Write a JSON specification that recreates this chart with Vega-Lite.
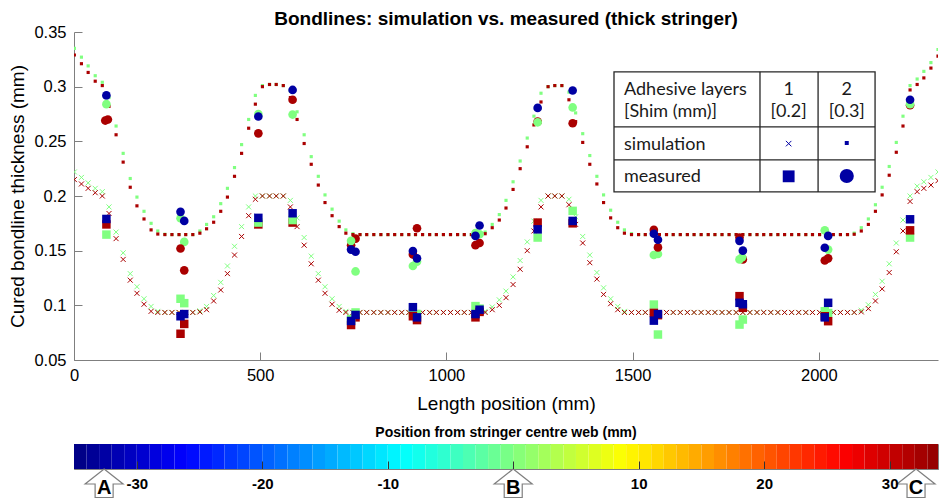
{
"$schema": "https://vega.github.io/schema/vega-lite/v6.json",
"padding": {"left": 8, "top": 10, "right": 0, "bottom": 0},
"background": "white",
"config": {"view": {"stroke": null}, "font": "Liberation Sans", "concat": {"spacing": 11}},
"datasets": {
"simL_g": [{"x":1,"y":0.222},{"x":20,"y":0.217},{"x":38,"y":0.212},{"x":57,"y":0.207},{"x":76,"y":0.204},{"x":94,"y":0.19},{"x":113,"y":0.167},{"x":132,"y":0.148},{"x":151,"y":0.129},{"x":169,"y":0.117},{"x":188,"y":0.106},{"x":207,"y":0.099},{"x":225,"y":0.0945},{"x":244,"y":0.0935},{"x":263,"y":0.0935},{"x":282,"y":0.0935},{"x":300,"y":0.0935},{"x":319,"y":0.0935},{"x":338,"y":0.095},{"x":356,"y":0.099},{"x":375,"y":0.109},{"x":394,"y":0.121},{"x":412,"y":0.136},{"x":431,"y":0.154},{"x":450,"y":0.172},{"x":469,"y":0.19},{"x":487,"y":0.2},{"x":506,"y":0.2},{"x":525,"y":0.2},{"x":543,"y":0.2},{"x":562,"y":0.2},{"x":581,"y":0.196},{"x":599,"y":0.18},{"x":618,"y":0.162},{"x":637,"y":0.145},{"x":656,"y":0.129},{"x":674,"y":0.117},{"x":693,"y":0.106},{"x":712,"y":0.099},{"x":730,"y":0.0945},{"x":749,"y":0.0935},{"x":768,"y":0.0935},{"x":786,"y":0.0935},{"x":805,"y":0.0935},{"x":824,"y":0.0935},{"x":843,"y":0.0935},{"x":861,"y":0.0935},{"x":880,"y":0.0935},{"x":899,"y":0.0935},{"x":917,"y":0.0935},{"x":936,"y":0.0935},{"x":955,"y":0.0935},{"x":973,"y":0.0935},{"x":992,"y":0.0935},{"x":1011,"y":0.0935},{"x":1030,"y":0.0935},{"x":1048,"y":0.0935},{"x":1067,"y":0.0935},{"x":1086,"y":0.0935},{"x":1104,"y":0.0945},{"x":1123,"y":0.0985},{"x":1142,"y":0.105},{"x":1160,"y":0.113},{"x":1179,"y":0.126},{"x":1198,"y":0.141},{"x":1217,"y":0.158},{"x":1235,"y":0.177},{"x":1254,"y":0.196},{"x":1273,"y":0.2},{"x":1291,"y":0.2},{"x":1310,"y":0.2},{"x":1329,"y":0.197},{"x":1347,"y":0.181},{"x":1366,"y":0.163},{"x":1385,"y":0.146},{"x":1404,"y":0.13},{"x":1422,"y":0.116},{"x":1441,"y":0.106},{"x":1460,"y":0.099},{"x":1478,"y":0.0945},{"x":1497,"y":0.0935},{"x":1516,"y":0.0935},{"x":1534,"y":0.0935},{"x":1553,"y":0.0935},{"x":1572,"y":0.0935},{"x":1591,"y":0.0935},{"x":1609,"y":0.0935},{"x":1628,"y":0.0935},{"x":1647,"y":0.0935},{"x":1665,"y":0.0935},{"x":1684,"y":0.0935},{"x":1703,"y":0.0935},{"x":1721,"y":0.0935},{"x":1740,"y":0.0935},{"x":1759,"y":0.0935},{"x":1778,"y":0.0935},{"x":1796,"y":0.0935},{"x":1815,"y":0.0935},{"x":1834,"y":0.0935},{"x":1852,"y":0.0935},{"x":1871,"y":0.0935},{"x":1890,"y":0.0935},{"x":1908,"y":0.0935},{"x":1927,"y":0.0935},{"x":1946,"y":0.0935},{"x":1965,"y":0.0935},{"x":1983,"y":0.0935},{"x":2002,"y":0.0935},{"x":2021,"y":0.0935},{"x":2039,"y":0.0935},{"x":2058,"y":0.0935},{"x":2077,"y":0.0935},{"x":2095,"y":0.0935},{"x":2114,"y":0.0955},{"x":2133,"y":0.1005},{"x":2152,"y":0.11},{"x":2170,"y":0.122},{"x":2189,"y":0.138},{"x":2208,"y":0.157},{"x":2226,"y":0.178},{"x":2245,"y":0.2},{"x":2264,"y":0.209},{"x":2282,"y":0.213},{"x":2301,"y":0.217},{"x":2320,"y":0.222}],
"simL_r": [{"x":1,"y":0.215},{"x":20,"y":0.211},{"x":38,"y":0.207},{"x":57,"y":0.203},{"x":76,"y":0.2},{"x":94,"y":0.184},{"x":113,"y":0.161},{"x":132,"y":0.142},{"x":151,"y":0.123},{"x":169,"y":0.111},{"x":188,"y":0.101},{"x":207,"y":0.0945},{"x":225,"y":0.0935},{"x":244,"y":0.0935},{"x":263,"y":0.0935},{"x":282,"y":0.0935},{"x":300,"y":0.0935},{"x":319,"y":0.0935},{"x":338,"y":0.094},{"x":356,"y":0.096},{"x":375,"y":0.104},{"x":394,"y":0.114},{"x":412,"y":0.129},{"x":431,"y":0.146},{"x":450,"y":0.163},{"x":469,"y":0.182},{"x":487,"y":0.197},{"x":506,"y":0.2},{"x":525,"y":0.2},{"x":543,"y":0.2},{"x":562,"y":0.2},{"x":581,"y":0.19},{"x":599,"y":0.172},{"x":618,"y":0.155},{"x":637,"y":0.138},{"x":656,"y":0.123},{"x":674,"y":0.111},{"x":693,"y":0.101},{"x":712,"y":0.0955},{"x":730,"y":0.0935},{"x":749,"y":0.0935},{"x":768,"y":0.0935},{"x":786,"y":0.0935},{"x":805,"y":0.0935},{"x":824,"y":0.0935},{"x":843,"y":0.0935},{"x":861,"y":0.0935},{"x":880,"y":0.0935},{"x":899,"y":0.0935},{"x":917,"y":0.0935},{"x":936,"y":0.0935},{"x":955,"y":0.0935},{"x":973,"y":0.0935},{"x":992,"y":0.0935},{"x":1011,"y":0.0935},{"x":1030,"y":0.0935},{"x":1048,"y":0.0935},{"x":1067,"y":0.0935},{"x":1086,"y":0.0935},{"x":1104,"y":0.0935},{"x":1123,"y":0.096},{"x":1142,"y":0.1},{"x":1160,"y":0.107},{"x":1179,"y":0.119},{"x":1198,"y":0.133},{"x":1217,"y":0.15},{"x":1235,"y":0.168},{"x":1254,"y":0.19},{"x":1273,"y":0.2},{"x":1291,"y":0.2},{"x":1310,"y":0.2},{"x":1329,"y":0.192},{"x":1347,"y":0.174},{"x":1366,"y":0.157},{"x":1385,"y":0.139},{"x":1404,"y":0.124},{"x":1422,"y":0.11},{"x":1441,"y":0.1015},{"x":1460,"y":0.096},{"x":1478,"y":0.0935},{"x":1497,"y":0.0935},{"x":1516,"y":0.0935},{"x":1534,"y":0.0935},{"x":1553,"y":0.0935},{"x":1572,"y":0.0935},{"x":1591,"y":0.0935},{"x":1609,"y":0.0935},{"x":1628,"y":0.0935},{"x":1647,"y":0.0935},{"x":1665,"y":0.0935},{"x":1684,"y":0.0935},{"x":1703,"y":0.0935},{"x":1721,"y":0.0935},{"x":1740,"y":0.0935},{"x":1759,"y":0.0935},{"x":1778,"y":0.0935},{"x":1796,"y":0.0935},{"x":1815,"y":0.0935},{"x":1834,"y":0.0935},{"x":1852,"y":0.0935},{"x":1871,"y":0.0935},{"x":1890,"y":0.0935},{"x":1908,"y":0.0935},{"x":1927,"y":0.0935},{"x":1946,"y":0.0935},{"x":1965,"y":0.0935},{"x":1983,"y":0.0935},{"x":2002,"y":0.0935},{"x":2021,"y":0.0935},{"x":2039,"y":0.0935},{"x":2058,"y":0.0935},{"x":2077,"y":0.0935},{"x":2095,"y":0.0935},{"x":2114,"y":0.094},{"x":2133,"y":0.097},{"x":2152,"y":0.104},{"x":2170,"y":0.115},{"x":2189,"y":0.13},{"x":2208,"y":0.149},{"x":2226,"y":0.168},{"x":2245,"y":0.195},{"x":2264,"y":0.204},{"x":2282,"y":0.207},{"x":2301,"y":0.21},{"x":2320,"y":0.214}],
"simU_g": [{"x":1,"y":0.335},{"x":20,"y":0.327},{"x":38,"y":0.319},{"x":57,"y":0.31},{"x":76,"y":0.304},{"x":94,"y":0.29},{"x":113,"y":0.264},{"x":132,"y":0.239},{"x":151,"y":0.216},{"x":169,"y":0.199},{"x":188,"y":0.186},{"x":207,"y":0.175},{"x":225,"y":0.168},{"x":244,"y":0.165},{"x":263,"y":0.1647},{"x":282,"y":0.1647},{"x":300,"y":0.1647},{"x":319,"y":0.1647},{"x":338,"y":0.168},{"x":356,"y":0.174},{"x":375,"y":0.181},{"x":394,"y":0.193},{"x":412,"y":0.207},{"x":431,"y":0.226},{"x":450,"y":0.247},{"x":469,"y":0.27},{"x":487,"y":0.292},{"x":506,"y":0.301},{"x":525,"y":0.302},{"x":543,"y":0.302},{"x":562,"y":0.301},{"x":581,"y":0.296},{"x":599,"y":0.277},{"x":618,"y":0.256},{"x":637,"y":0.236},{"x":656,"y":0.218},{"x":674,"y":0.201},{"x":693,"y":0.188},{"x":712,"y":0.177},{"x":730,"y":0.169},{"x":749,"y":0.1655},{"x":768,"y":0.1647},{"x":786,"y":0.1647},{"x":805,"y":0.1647},{"x":824,"y":0.1647},{"x":843,"y":0.1647},{"x":861,"y":0.1647},{"x":880,"y":0.1647},{"x":899,"y":0.1647},{"x":917,"y":0.1647},{"x":936,"y":0.1647},{"x":955,"y":0.1647},{"x":973,"y":0.1647},{"x":992,"y":0.1647},{"x":1011,"y":0.1647},{"x":1030,"y":0.1647},{"x":1048,"y":0.1647},{"x":1067,"y":0.1647},{"x":1086,"y":0.1647},{"x":1104,"y":0.167},{"x":1123,"y":0.174},{"x":1142,"y":0.183},{"x":1160,"y":0.196},{"x":1179,"y":0.213},{"x":1198,"y":0.232},{"x":1217,"y":0.253},{"x":1235,"y":0.273},{"x":1254,"y":0.294},{"x":1273,"y":0.3},{"x":1291,"y":0.301},{"x":1310,"y":0.301},{"x":1329,"y":0.295},{"x":1347,"y":0.276},{"x":1366,"y":0.257},{"x":1385,"y":0.237},{"x":1404,"y":0.218},{"x":1422,"y":0.201},{"x":1441,"y":0.187},{"x":1460,"y":0.176},{"x":1478,"y":0.169},{"x":1497,"y":0.1655},{"x":1516,"y":0.1647},{"x":1534,"y":0.1647},{"x":1553,"y":0.1647},{"x":1572,"y":0.1647},{"x":1591,"y":0.1647},{"x":1609,"y":0.1647},{"x":1628,"y":0.1647},{"x":1647,"y":0.1647},{"x":1665,"y":0.1647},{"x":1684,"y":0.1647},{"x":1703,"y":0.1647},{"x":1721,"y":0.1647},{"x":1740,"y":0.1647},{"x":1759,"y":0.1647},{"x":1778,"y":0.1647},{"x":1796,"y":0.1647},{"x":1815,"y":0.1647},{"x":1834,"y":0.1647},{"x":1852,"y":0.1647},{"x":1871,"y":0.1647},{"x":1890,"y":0.1647},{"x":1908,"y":0.1647},{"x":1927,"y":0.1647},{"x":1946,"y":0.1647},{"x":1965,"y":0.1647},{"x":1983,"y":0.1647},{"x":2002,"y":0.1647},{"x":2021,"y":0.1647},{"x":2039,"y":0.1647},{"x":2058,"y":0.1647},{"x":2077,"y":0.1647},{"x":2095,"y":0.166},{"x":2114,"y":0.171},{"x":2133,"y":0.179},{"x":2152,"y":0.192},{"x":2170,"y":0.208},{"x":2189,"y":0.227},{"x":2208,"y":0.249},{"x":2226,"y":0.273},{"x":2245,"y":0.301},{"x":2264,"y":0.307},{"x":2282,"y":0.314},{"x":2301,"y":0.322},{"x":2320,"y":0.334}],
"simU_r": [{"x":1,"y":0.329},{"x":20,"y":0.321},{"x":38,"y":0.313},{"x":57,"y":0.305},{"x":76,"y":0.301},{"x":94,"y":0.282},{"x":113,"y":0.256},{"x":132,"y":0.231},{"x":151,"y":0.208},{"x":169,"y":0.191},{"x":188,"y":0.179},{"x":207,"y":0.169},{"x":225,"y":0.1652},{"x":244,"y":0.1647},{"x":263,"y":0.1647},{"x":282,"y":0.1647},{"x":300,"y":0.1647},{"x":319,"y":0.1647},{"x":338,"y":0.166},{"x":356,"y":0.17},{"x":375,"y":0.176},{"x":394,"y":0.186},{"x":412,"y":0.199},{"x":431,"y":0.218},{"x":450,"y":0.239},{"x":469,"y":0.262},{"x":487,"y":0.284},{"x":506,"y":0.3},{"x":525,"y":0.302},{"x":543,"y":0.302},{"x":562,"y":0.301},{"x":581,"y":0.29},{"x":599,"y":0.27},{"x":618,"y":0.248},{"x":637,"y":0.229},{"x":656,"y":0.21},{"x":674,"y":0.194},{"x":693,"y":0.182},{"x":712,"y":0.172},{"x":730,"y":0.166},{"x":749,"y":0.1647},{"x":768,"y":0.1647},{"x":786,"y":0.1647},{"x":805,"y":0.1647},{"x":824,"y":0.1647},{"x":843,"y":0.1647},{"x":861,"y":0.1647},{"x":880,"y":0.1647},{"x":899,"y":0.1647},{"x":917,"y":0.1647},{"x":936,"y":0.1647},{"x":955,"y":0.1647},{"x":973,"y":0.1647},{"x":992,"y":0.1647},{"x":1011,"y":0.1647},{"x":1030,"y":0.1647},{"x":1048,"y":0.1647},{"x":1067,"y":0.1647},{"x":1086,"y":0.1647},{"x":1104,"y":0.1655},{"x":1123,"y":0.171},{"x":1142,"y":0.178},{"x":1160,"y":0.189},{"x":1179,"y":0.206},{"x":1198,"y":0.225},{"x":1217,"y":0.245},{"x":1235,"y":0.265},{"x":1254,"y":0.286},{"x":1273,"y":0.3},{"x":1291,"y":0.301},{"x":1310,"y":0.301},{"x":1329,"y":0.288},{"x":1347,"y":0.268},{"x":1366,"y":0.249},{"x":1385,"y":0.229},{"x":1404,"y":0.211},{"x":1422,"y":0.194},{"x":1441,"y":0.18},{"x":1460,"y":0.171},{"x":1478,"y":0.166},{"x":1497,"y":0.1647},{"x":1516,"y":0.1647},{"x":1534,"y":0.1647},{"x":1553,"y":0.1647},{"x":1572,"y":0.1647},{"x":1591,"y":0.1647},{"x":1609,"y":0.1647},{"x":1628,"y":0.1647},{"x":1647,"y":0.1647},{"x":1665,"y":0.1647},{"x":1684,"y":0.1647},{"x":1703,"y":0.1647},{"x":1721,"y":0.1647},{"x":1740,"y":0.1647},{"x":1759,"y":0.1647},{"x":1778,"y":0.1647},{"x":1796,"y":0.1647},{"x":1815,"y":0.1647},{"x":1834,"y":0.1647},{"x":1852,"y":0.1647},{"x":1871,"y":0.1647},{"x":1890,"y":0.1647},{"x":1908,"y":0.1647},{"x":1927,"y":0.1647},{"x":1946,"y":0.1647},{"x":1965,"y":0.1647},{"x":1983,"y":0.1647},{"x":2002,"y":0.1647},{"x":2021,"y":0.1647},{"x":2039,"y":0.1647},{"x":2058,"y":0.1647},{"x":2077,"y":0.1647},{"x":2095,"y":0.165},{"x":2114,"y":0.168},{"x":2133,"y":0.174},{"x":2152,"y":0.186},{"x":2170,"y":0.201},{"x":2189,"y":0.219},{"x":2208,"y":0.24},{"x":2226,"y":0.264},{"x":2245,"y":0.297},{"x":2264,"y":0.302},{"x":2282,"y":0.308},{"x":2301,"y":0.317},{"x":2320,"y":0.328}],
"meas": [
{"x":87,"y":0.1647,"s":1,"p":0},{"x":87,"y":0.174,"s":1,"p":32.1},{"x":87,"y":0.179,"s":1,"p":-32.6},
{"x":286,"y":0.106,"s":1,"p":0},{"x":296,"y":0.102,"s":1,"p":0},{"x":286,"y":0.074,"s":1,"p":32.1},{"x":296,"y":0.083,"s":1,"p":32.1},{"x":286,"y":0.09,"s":1,"p":-32.6},{"x":296,"y":0.092,"s":1,"p":-32.6},
{"x":495,"y":0.174,"s":1,"p":32.1},{"x":495,"y":0.1757,"s":1,"p":0},{"x":495,"y":0.18,"s":1,"p":-32.6},
{"x":587,"y":0.1757,"s":1,"p":32.1},{"x":587,"y":0.178,"s":1,"p":0},{"x":587,"y":0.1842,"s":1,"p":-32.6},
{"x":744,"y":0.082,"s":1,"p":32.1},{"x":756,"y":0.089,"s":1,"p":32.1},{"x":744,"y":0.0875,"s":1,"p":0},{"x":756,"y":0.0935,"s":1,"p":0},{"x":744,"y":0.0857,"s":1,"p":-32.6},{"x":756,"y":0.0912,"s":1,"p":-32.6},
{"x":910,"y":0.093,"s":1,"p":0},{"x":921,"y":0.092,"s":1,"p":0},{"x":910,"y":0.09,"s":1,"p":32.1},{"x":921,"y":0.0865,"s":1,"p":32.1},{"x":910,"y":0.0983,"s":1,"p":-32.6},{"x":921,"y":0.089,"s":1,"p":-32.6},
{"x":1078,"y":0.0993,"s":1,"p":0},{"x":1089,"y":0.097,"s":1,"p":0},{"x":1078,"y":0.089,"s":1,"p":32.1},{"x":1089,"y":0.094,"s":1,"p":32.1},{"x":1078,"y":0.092,"s":1,"p":-32.6},{"x":1089,"y":0.096,"s":1,"p":-32.6},
{"x":1245,"y":0.162,"s":1,"p":0},{"x":1245,"y":0.1757,"s":1,"p":32.1},{"x":1245,"y":0.1695,"s":1,"p":-32.6},
{"x":1339,"y":0.175,"s":1,"p":32.1},{"x":1339,"y":0.1864,"s":1,"p":0},{"x":1339,"y":0.1772,"s":1,"p":-32.6},
{"x":1557,"y":0.1007,"s":1,"p":0},{"x":1568,"y":0.0733,"s":1,"p":0},{"x":1557,"y":0.0931,"s":1,"p":32.1},{"x":1568,"y":0.091,"s":1,"p":32.1},{"x":1557,"y":0.086,"s":1,"p":-32.6},{"x":1568,"y":0.092,"s":1,"p":-32.6},
{"x":1787,"y":0.0824,"s":1,"p":0},{"x":1796,"y":0.087,"s":1,"p":0},{"x":1787,"y":0.1084,"s":1,"p":32.1},{"x":1796,"y":0.0977,"s":1,"p":32.1},{"x":1787,"y":0.1023,"s":1,"p":-32.6},{"x":1796,"y":0.101,"s":1,"p":-32.6},
{"x":2016,"y":0.0946,"s":1,"p":0},{"x":2025,"y":0.093,"s":1,"p":0},{"x":2016,"y":0.09,"s":1,"p":32.1},{"x":2025,"y":0.0855,"s":1,"p":32.1},{"x":2016,"y":0.089,"s":1,"p":-32.6},{"x":2025,"y":0.1023,"s":1,"p":-32.6},
{"x":2245,"y":0.162,"s":1,"p":0},{"x":2245,"y":0.1686,"s":1,"p":32.1},{"x":2245,"y":0.1787,"s":1,"p":-32.6},
{"x":84,"y":0.269,"s":2,"p":32.1},{"x":91,"y":0.27,"s":2,"p":32.1},{"x":87,"y":0.292,"s":2,"p":-32.6},{"x":87,"y":0.284,"s":2,"p":0},
{"x":286,"y":0.1796,"s":2,"p":0},{"x":296,"y":0.158,"s":2,"p":0},{"x":286,"y":0.152,"s":2,"p":32.1},{"x":296,"y":0.132,"s":2,"p":32.1},{"x":286,"y":0.1855,"s":2,"p":-32.6},{"x":296,"y":0.1772,"s":2,"p":-32.6},
{"x":495,"y":0.275,"s":2,"p":0},{"x":495,"y":0.2727,"s":2,"p":-32.6},{"x":495,"y":0.2573,"s":2,"p":32.1},
{"x":587,"y":0.2745,"s":2,"p":0},{"x":587,"y":0.288,"s":2,"p":32.1},{"x":587,"y":0.297,"s":2,"p":-32.6},
{"x":744,"y":0.155,"s":2,"p":32.1},{"x":756,"y":0.161,"s":2,"p":32.1},{"x":744,"y":0.159,"s":2,"p":0},{"x":756,"y":0.131,"s":2,"p":0},{"x":744,"y":0.151,"s":2,"p":-32.6},{"x":756,"y":0.149,"s":2,"p":-32.6},
{"x":910,"y":0.136,"s":2,"p":0},{"x":921,"y":0.14,"s":2,"p":0},{"x":921,"y":0.1705,"s":2,"p":32.1},{"x":910,"y":0.1466,"s":2,"p":32.1},{"x":910,"y":0.1497,"s":2,"p":-32.6},{"x":921,"y":0.143,"s":2,"p":-32.6},
{"x":1078,"y":0.166,"s":2,"p":0},{"x":1089,"y":0.165,"s":2,"p":0},{"x":1078,"y":0.155,"s":2,"p":32.1},{"x":1089,"y":0.157,"s":2,"p":32.1},{"x":1078,"y":0.1635,"s":2,"p":-32.6},{"x":1089,"y":0.173,"s":2,"p":-32.6},
{"x":1245,"y":0.268,"s":2,"p":32.1},{"x":1245,"y":0.2806,"s":2,"p":-32.6},{"x":1245,"y":0.2674,"s":2,"p":0},
{"x":1339,"y":0.2665,"s":2,"p":32.1},{"x":1339,"y":0.281,"s":2,"p":0},{"x":1339,"y":0.2965,"s":2,"p":-32.6},
{"x":1557,"y":0.146,"s":2,"p":0},{"x":1568,"y":0.147,"s":2,"p":0},{"x":1568,"y":0.153,"s":2,"p":32.1},{"x":1557,"y":0.169,"s":2,"p":32.1},{"x":1557,"y":0.1655,"s":2,"p":-32.6},{"x":1568,"y":0.16,"s":2,"p":-32.6},
{"x":1796,"y":0.142,"s":2,"p":32.1},{"x":1787,"y":0.162,"s":2,"p":32.1},{"x":1787,"y":0.142,"s":2,"p":0},{"x":1794,"y":0.144,"s":2,"p":0},{"x":1787,"y":0.159,"s":2,"p":-32.6},{"x":1796,"y":0.15,"s":2,"p":-32.6},
{"x":2016,"y":0.141,"s":2,"p":32.1},{"x":2025,"y":0.143,"s":2,"p":32.1},{"x":2025,"y":0.151,"s":2,"p":0},{"x":2016,"y":0.1686,"s":2,"p":0},{"x":2016,"y":0.1527,"s":2,"p":-32.6},{"x":2025,"y":0.1635,"s":2,"p":-32.6},
{"x":2245,"y":0.283,"s":2,"p":32.1},{"x":2245,"y":0.284,"s":2,"p":0},{"x":2245,"y":0.288,"s":2,"p":-32.6}
],
"tbox": [{"x":1450,"x2":2151,"y":0.2037,"y2":0.3136}],
"tlines": [{"x":1450,"x2":2151,"y":0.2632,"y2":0.2632},{"x":1450,"x2":2151,"y":0.233,"y2":0.233},{"x":1842,"x2":1842,"y":0.2037,"y2":0.3136},{"x":1998,"x2":1998,"y":0.2037,"y2":0.3136}],
"ttext": [{"x":1477,"y":0.2928,"t":"Adhesive layers","a":"l"},{"x":1477,"y":0.2724,"t":"[Shim (mm)]","a":"l"},{"x":1919,"y":0.2928,"t":"1","a":"c"},{"x":1919,"y":0.2724,"t":"[0.2]","a":"c"},{"x":2075,"y":0.2928,"t":"2","a":"c"},{"x":2075,"y":0.2724,"t":"[0.3]","a":"c"},{"x":1477,"y":0.2424,"t":"simulation","a":"l"},{"x":1477,"y":0.2125,"t":"measured","a":"l"}],
"tsym": [{"x":1919,"y":0.2479,"k":"sx","p":-32.6},{"x":2075,"y":0.2485,"k":"sd","p":-32.6},{"x":1919,"y":0.218,"k":"ms","p":-32.6},{"x":2075,"y":0.2183,"k":"mc","p":-32.6}],
"bands": [{"a":-35,"b":-34,"c":-34.5},{"a":-34,"b":-33,"c":-33.5},{"a":-33,"b":-32,"c":-32.5},{"a":-32,"b":-31,"c":-31.5},{"a":-31,"b":-30,"c":-30.5},{"a":-30,"b":-29,"c":-29.5},{"a":-29,"b":-28,"c":-28.5},{"a":-28,"b":-27,"c":-27.5},{"a":-27,"b":-26,"c":-26.5},{"a":-26,"b":-25,"c":-25.5},{"a":-25,"b":-24,"c":-24.5},{"a":-24,"b":-23,"c":-23.5},{"a":-23,"b":-22,"c":-22.5},{"a":-22,"b":-21,"c":-21.5},{"a":-21,"b":-20,"c":-20.5},{"a":-20,"b":-19,"c":-19.5},{"a":-19,"b":-18,"c":-18.5},{"a":-18,"b":-17,"c":-17.5},{"a":-17,"b":-16,"c":-16.5},{"a":-16,"b":-15,"c":-15.5},{"a":-15,"b":-14,"c":-14.5},{"a":-14,"b":-13,"c":-13.5},{"a":-13,"b":-12,"c":-12.5},{"a":-12,"b":-11,"c":-11.5},{"a":-11,"b":-10,"c":-10.5},{"a":-10,"b":-9,"c":-9.5},{"a":-9,"b":-8,"c":-8.5},{"a":-8,"b":-7,"c":-7.5},{"a":-7,"b":-6,"c":-6.5},{"a":-6,"b":-5,"c":-5.5},{"a":-5,"b":-4,"c":-4.5},{"a":-4,"b":-3,"c":-3.5},{"a":-3,"b":-2,"c":-2.5},{"a":-2,"b":-1,"c":-1.5},{"a":-1,"b":0,"c":-0.5},{"a":0,"b":1,"c":0.5},{"a":1,"b":2,"c":1.5},{"a":2,"b":3,"c":2.5},{"a":3,"b":4,"c":3.5},{"a":4,"b":5,"c":4.5},{"a":5,"b":6,"c":5.5},{"a":6,"b":7,"c":6.5},{"a":7,"b":8,"c":7.5},{"a":8,"b":9,"c":8.5},{"a":9,"b":10,"c":9.5},{"a":10,"b":11,"c":10.5},{"a":11,"b":12,"c":11.5},{"a":12,"b":13,"c":12.5},{"a":13,"b":14,"c":13.5},{"a":14,"b":15,"c":14.5},{"a":15,"b":16,"c":15.5},{"a":16,"b":17,"c":16.5},{"a":17,"b":18,"c":17.5},{"a":18,"b":19,"c":18.5},{"a":19,"b":20,"c":19.5},{"a":20,"b":21,"c":20.5},{"a":21,"b":22,"c":21.5},{"a":22,"b":23,"c":22.5},{"a":23,"b":24,"c":23.5},{"a":24,"b":25,"c":24.5},{"a":25,"b":26,"c":25.5},{"a":26,"b":27,"c":26.5},{"a":27,"b":28,"c":27.5},{"a":28,"b":29,"c":28.5},{"a":29,"b":30,"c":29.5},{"a":30,"b":31,"c":30.5},{"a":31,"b":32,"c":31.5},{"a":32,"b":33,"c":32.5},{"a":33,"b":34,"c":33.5}],
"arrows": [{"p":-32.6,"t":"A"},{"p":0,"t":"B"},{"p":32.1,"t":"C"}]
},
"vconcat": [
{
"width": 864, "height": 328,
"title": {"text": "Bondlines: simulation vs. measured (thick stringer)", "fontSize": 19, "fontWeight": "bold", "font": "Liberation Sans", "color": "#000", "anchor": "middle", "frame": "group", "baseline": "alphabetic", "offset": -20},
"encoding": {
"x": {"field": "x", "type": "quantitative", "scale": {"domain": [0, 2320], "nice": false, "zero": false},
 "axis": {"title": "Length position (mm)", "values": [0, 500, 1000, 1500, 2000], "format": "d", "grid": false, "domainColor": "#7f7f7f", "tickColor": "#7f7f7f", "tickSize": -8, "labelFontSize": 16.5, "labelColor": "#000", "labelPadding": 15, "labelFlush": false, "titleFontSize": 19, "titleFontWeight": "normal", "titleColor": "#000", "titlePadding": 11}},
"y": {"field": "y", "type": "quantitative", "scale": {"domain": [0.05, 0.35], "nice": false, "zero": false},
 "axis": {"title": "Cured bondline thickness (mm)", "values": [0.05, 0.1, 0.15, 0.2, 0.25, 0.3, 0.35], "format": "~g", "grid": false, "domainColor": "#7f7f7f", "tickColor": "#7f7f7f", "tickSize": -8, "labelFontSize": 16.5, "labelColor": "#000", "labelPadding": 16, "labelFlush": false, "titleFontSize": 19, "titleFontWeight": "normal", "titleColor": "#000", "titlePadding": 6}}
},
"layer": [
{"data": {"name": "simL_g"}, "mark": {"type": "point", "shape": "M-1,-1L1,1M-1,1L1,-1", "filled": false, "size": 25, "strokeWidth": 1, "opacity": 1, "clip": true},
 "encoding": {"color": {"datum": 0, "type": "quantitative", "scale": {"type": "linear", "domain": [-35, -26.25, -8.75, 8.75, 26.25, 35], "range": ["#000080", "#0000ff", "#00ffff", "#ffff00", "#ff0000", "#800000"], "interpolate": "rgb"}, "legend": null}}},
{"data": {"name": "simL_r"}, "mark": {"type": "point", "shape": "M-1,-1L1,1M-1,1L1,-1", "filled": false, "size": 25, "strokeWidth": 1, "opacity": 1, "clip": true},
 "encoding": {"color": {"datum": 32.1, "type": "quantitative", "legend": null}}},
{"data": {"name": "simU_g"}, "mark": {"type": "square", "size": 10, "opacity": 1, "clip": true},
 "encoding": {"color": {"datum": 0, "type": "quantitative", "legend": null}}},
{"data": {"name": "simU_r"}, "mark": {"type": "square", "size": 10, "opacity": 1, "clip": true},
 "encoding": {"color": {"datum": 32.1, "type": "quantitative", "legend": null}}},
{"data": {"name": "meas"}, "transform": [{"filter": "datum.s == 1"}], "mark": {"type": "square", "size": 72, "opacity": 1},
 "encoding": {"color": {"field": "p", "type": "quantitative", "legend": null}}},
{"data": {"name": "meas"}, "transform": [{"filter": "datum.s == 2"}], "mark": {"type": "circle", "size": 75, "opacity": 1},
 "encoding": {"color": {"field": "p", "type": "quantitative", "legend": null}}},
{"data": {"name": "tbox"}, "mark": {"type": "rect", "fill": "white", "stroke": "#262626", "strokeWidth": 1.3},
 "encoding": {"x2": {"field": "x2"}, "y2": {"field": "y2"}}},
{"data": {"name": "tlines"}, "mark": {"type": "rule", "stroke": "#262626", "strokeWidth": 1.3},
 "encoding": {"x2": {"field": "x2"}, "y2": {"field": "y2"}}},
{"data": {"name": "ttext"}, "transform": [{"filter": "datum.a == 'l'"}], "mark": {"type": "text", "align": "left", "baseline": "alphabetic", "font": "Lato", "fontSize": 18, "color": "#1a1a1a"},
 "encoding": {"text": {"field": "t"}}},
{"data": {"name": "ttext"}, "transform": [{"filter": "datum.a == 'c'"}], "mark": {"type": "text", "align": "center", "baseline": "alphabetic", "font": "Lato", "fontSize": 18, "color": "#1a1a1a"},
 "encoding": {"text": {"field": "t"}}},
{"data": {"name": "tsym"}, "transform": [{"filter": "datum.k == 'sx'"}], "mark": {"type": "point", "shape": "M-1,-1L1,1M-1,1L1,-1", "filled": false, "size": 30, "strokeWidth": 1, "opacity": 1},
 "encoding": {"color": {"field": "p", "type": "quantitative", "legend": null}}},
{"data": {"name": "tsym"}, "transform": [{"filter": "datum.k == 'sd'"}], "mark": {"type": "square", "size": 16, "opacity": 1},
 "encoding": {"color": {"field": "p", "type": "quantitative", "legend": null}}},
{"data": {"name": "tsym"}, "transform": [{"filter": "datum.k == 'ms'"}], "mark": {"type": "square", "size": 140, "opacity": 1},
 "encoding": {"color": {"field": "p", "type": "quantitative", "legend": null}}},
{"data": {"name": "tsym"}, "transform": [{"filter": "datum.k == 'mc'"}], "mark": {"type": "circle", "size": 200, "opacity": 1},
 "encoding": {"color": {"field": "p", "type": "quantitative", "legend": null}}}
]
},
{
"width": 864, "height": 25,
"view": {"stroke": "#7f7f7f", "strokeWidth": 1},
"title": {"text": "Position from stringer centre web (mm)", "fontSize": 14, "fontWeight": "bold", "font": "Liberation Sans", "color": "#000", "anchor": "middle", "frame": "group", "baseline": "alphabetic", "offset": -6.5},
"layer": [
{"data": {"name": "bands"}, "mark": {"type": "rect", "clip": true},
 "encoding": {
 "x": {"field": "a", "type": "quantitative", "scale": {"domain": [-35, 33.85], "nice": false, "zero": false},
  "axis": {"title": null, "values": [-30, -20, -10, 0, 10, 20, 30], "labelExpr": "datum.value === 0 ? '' : '' + datum.value", "grid": false, "tickSize": -8, "tickColor": "#333333", "domainColor": "#7f7f7f", "labelFontSize": 15, "labelFontWeight": "bold", "labelColor": "#000", "labelPadding": 15.5, "labelFlush": false, "zindex": 1}},
 "x2": {"field": "b"},
 "color": {"field": "c", "type": "quantitative", "scale": {"type": "linear", "domain": [-35, -26.25, -8.75, 8.75, 26.25, 35], "range": ["#000080", "#0000ff", "#00ffff", "#ffff00", "#ff0000", "#800000"], "interpolate": "rgb"}, "legend": null}}},
{"data": {"name": "arrows"}, "mark": {"type": "point", "shape": "M0,0L1,0.79L0.474,0.79L0.474,1.5L-0.474,1.5L-0.474,0.79L-1,0.79Z", "size": 1444, "filled": true, "fill": "white", "stroke": "#7f7f7f", "strokeWidth": 1.2, "opacity": 1},
 "encoding": {"x": {"field": "p", "type": "quantitative"}, "y": {"datum": 0, "type": "quantitative", "scale": {"domain": [0, 1]}, "axis": null}}},
{"data": {"name": "arrows"}, "mark": {"type": "text", "fontSize": 20, "fontWeight": "bold", "baseline": "alphabetic", "dy": 24.5, "color": "#000", "font": "Liberation Sans"},
 "encoding": {"x": {"field": "p", "type": "quantitative"}, "y": {"datum": 0, "type": "quantitative"}, "text": {"field": "t"}}}
]
}
]
}
